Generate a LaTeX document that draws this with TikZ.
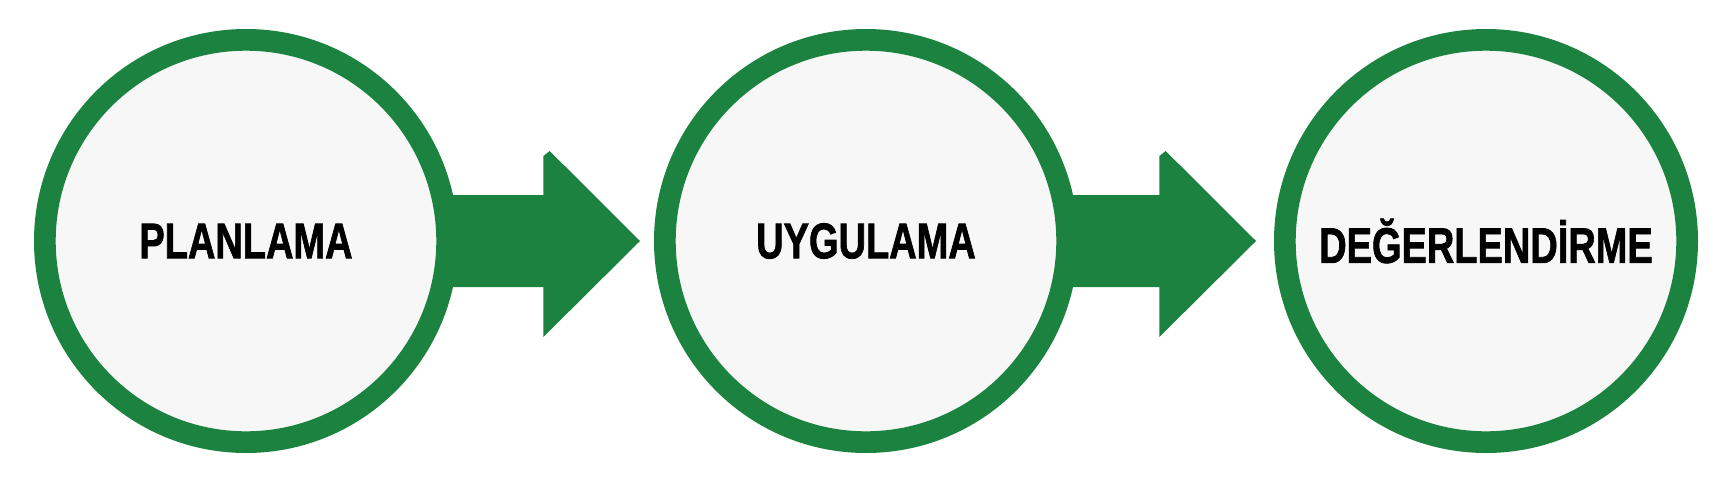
\documentclass[tikz,border=0pt]{standalone}
\usepackage{fontspec}
\setmainfont{Liberation Sans}[BoldFeatures={FakeBold=1.6}]
\usetikzlibrary{calc}
\definecolor{ringgreen}{RGB}{27,130,64}
\definecolor{innergray}{RGB}{247,247,247}
\newcommand{\narrowlabel}[1]{\scalebox{0.76}[1]{#1}}
\tikzset{
  stage/.style={circle, draw=ringgreen, line width=21.7pt, fill=innergray,
    minimum size=402.3pt, inner sep=0pt, outer sep=0pt,
    font=\fontsize{50}{60}\selectfont\bfseries, text=black},
  blockarrow/.style={fill=ringgreen, draw=none}
}
\begin{document}
\begin{tikzpicture}[x=1pt,y=-1pt]
\useasboundingbox (0,0) rectangle (1725,480);
% arrows first (under the circles)
\coordinate (a1) at (246,241);
\coordinate (a2) at (862,241);
\foreach \c in {a1,a2}{
  \fill[blockarrow] ($(\c)+(50,-46)$) -- ($(\c)+(297.3,-46)$) -- ($(\c)+(297.3,-85)$)
    -- ($(\c)+(303.7,-90)$) -- ($(\c)+(394,0)$) -- ($(\c)+(297.3,96)$)
    -- ($(\c)+(297.3,46)$) -- ($(\c)+(50,46)$) -- cycle;
}
\node[stage] (c1) at (246,241) {\narrowlabel{PLANLAMA}};
\node[stage] (c2) at (866,241) {\narrowlabel{UYGULAMA}};
\node[stage] (c3) at (1486,241) {\narrowlabel{DEĞERLENDİRME}};
\end{tikzpicture}
\end{document}
